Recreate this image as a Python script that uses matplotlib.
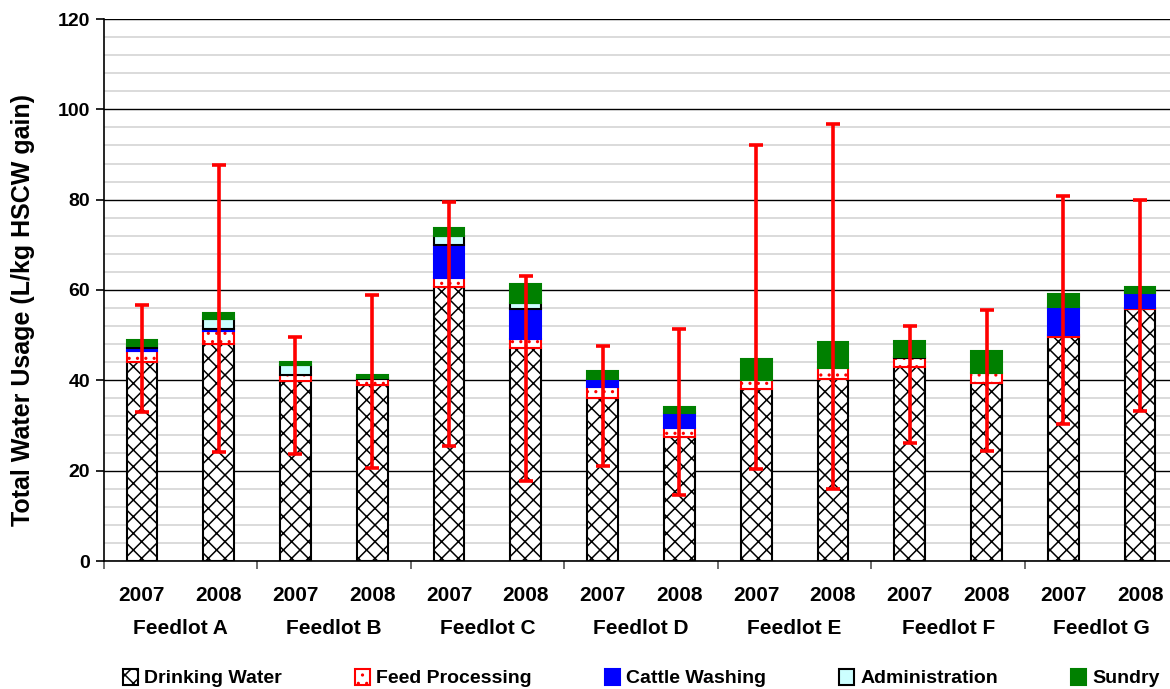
import matplotlib.pyplot as plt
import numpy as np

plt.rcParams['font.family'] = ['Liberation Sans', 'DejaVu Sans']
plt.rcParams['font.weight'] = 'bold'
plt.rcParams['hatch.linewidth'] = 1.1

feedlots = ['Feedlot A', 'Feedlot B', 'Feedlot C', 'Feedlot D',
            'Feedlot E', 'Feedlot F', 'Feedlot G']
years = ['2007', '2008']

# water use components per feedlot-year (L/kg HSCW gain)
drinking = [44.1, 48.0, 39.9, 38.9, 60.7, 47.1, 36.0, 27.5, 38.0, 40.2, 43.0, 39.5, 49.7, 55.8]
feed = [2.5, 3.0, 1.3, 1.5, 1.9, 2.0, 2.6, 1.9, 2.1, 2.6, 1.9, 2.2, 0.3, 0.3]
washing = [0.5, 0.3, 0.0, 0.0, 7.4, 6.8, 1.7, 3.3, 0.0, 0.0, 0.0, 0.0, 6.2, 3.3]
admin = [0.5, 2.2, 2.1, 0.2, 2.0, 1.3, 0.0, 0.0, 0.0, 0.0, 0.2, 0.0, 0.0, 0.0]
sundry = [1.3, 1.3, 0.8, 0.6, 1.8, 4.1, 1.8, 1.3, 4.6, 5.6, 3.6, 4.9, 2.9, 1.3]

# range of total usage
err_low = [32.9, 24.2, 23.6, 20.5, 25.5, 17.7, 21.0, 14.6, 20.4, 15.9, 26.1, 24.4, 30.3, 33.1]
err_high = [56.7, 87.7, 49.5, 58.9, 79.5, 63.2, 47.7, 51.4, 92.1, 96.7, 52.0, 55.6, 80.9, 79.9]

x = np.arange(len(drinking))
w = 0.4

fig = plt.figure(figsize=(11.7, 6.89), dpi=100)
ax = fig.add_axes([103.5 / 1170, 128 / 689, 1075 / 1170, 542 / 689])

ax.set_ylim(0, 120)
ax.set_xlim(-0.5, len(x) - 0.5)
ax.set_yticks(np.arange(0, 121, 20))
ax.set_yticks(np.arange(0, 121, 4), minor=True)
ax.grid(axis='y', which='minor', color='#d4d4d4', lw=1.2)
ax.grid(axis='y', which='major', color='black', lw=1.0)
ax.set_axisbelow(True)

layers = [
    (drinking, 'Drinking Water', dict(color='white', edgecolor='black', hatch='xx')),
    (feed, 'Feed Processing', dict(color='white', edgecolor='red', hatch='..')),
    (washing, 'Cattle Washing', dict(color='#0000ff', edgecolor='#0000ff')),
    (admin, 'Administration', dict(color='#ccffff', edgecolor='black')),
    (sundry, 'Sundry', dict(color='#008000', edgecolor='#008000')),
]
bottom = np.zeros(len(x))
for vals, name, style in layers:
    vals = np.array(vals)
    lws = np.where(vals > 0, 1.5, 0.0)
    ax.bar(x, vals, w, bottom=bottom, linewidth=lws, label=name, zorder=2, **style)
    bottom += vals

total = bottom
yerr = [total - np.array(err_low), np.array(err_high) - total]
ax.errorbar(x, total, yerr=yerr, fmt='none', ecolor='red', elinewidth=2.6,
            capsize=5, capthick=2.6, zorder=3)

ax.set_xticks(x)
ax.set_xticklabels(years * len(feedlots), fontsize=15, fontweight='bold')
ax.tick_params(axis='x', which='major', length=0, pad=18)
ax.set_xticks(np.arange(-0.5, len(x), 2), minor=True)
ax.tick_params(axis='x', which='minor', length=6, width=1.2, color='#555555')
ax.tick_params(axis='y', which='major', length=6, width=1.2, labelsize=14)
ax.tick_params(axis='y', which='minor', length=0)
for lbl in ax.get_yticklabels():
    lbl.set_fontweight('bold')

for i, name in enumerate(feedlots):
    ax.text(2 * i + 0.5, -15.0, name, ha='center', va='center',
            fontsize=15, fontweight='bold')

ax.set_ylabel('Total Water Usage (L/kg HSCW gain)', fontsize=18,
              fontweight='bold')
ax.yaxis.set_label_coords(-0.064, 0.463)

for s in ['top', 'right']:
    ax.spines[s].set_visible(False)
ax.spines['left'].set_linewidth(1.2)
ax.spines['bottom'].set_linewidth(1.2)

fig.legend(loc='center', bbox_to_anchor=(0.548, 0.016), ncol=5, frameon=False,
           fontsize=14, handlelength=0.8, handleheight=0.9, handletextpad=0.3,
           columnspacing=3.75, borderpad=0)

fig.savefig('out.png', dpi=100)
